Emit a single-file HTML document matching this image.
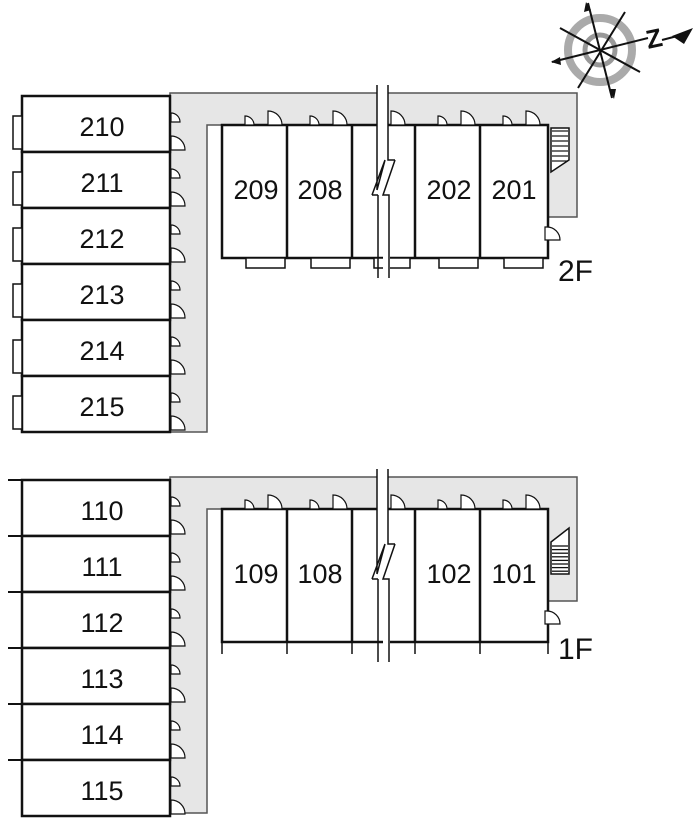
<!DOCTYPE html>
<html><head><meta charset="utf-8"><style>
html,body{margin:0;padding:0;background:#fff;}
svg{display:block}
text{font-family:"Liberation Sans",sans-serif;fill:#111;}
</style></head><body>
<svg id="s" width="700" height="823" viewBox="0 0 700 823" xmlns="http://www.w3.org/2000/svg">
<g id="g"></g>
<g font-size="27" text-anchor="middle">
<text x="102" y="136">210</text><text x="102" y="192">211</text><text x="102" y="248">212</text>
<text x="102" y="304">213</text><text x="102" y="360">214</text><text x="102" y="416">215</text>
<text x="256" y="199">209</text><text x="320" y="199">208</text><text x="449" y="199">202</text><text x="514" y="199">201</text>
<text x="102" y="520">110</text><text x="102" y="576">111</text><text x="102" y="632">112</text>
<text x="102" y="688">113</text><text x="102" y="744">114</text><text x="102" y="800">115</text>
<text x="256" y="583">109</text><text x="320" y="583">108</text><text x="449" y="583">102</text><text x="514" y="583">101</text>
</g>
<g font-size="30"><text x="558" y="281">2F</text><text x="558" y="659">1F</text></g>
<g font-size="26" font-weight="bold" font-family="Liberation Serif"><text x="646" y="47" transform="rotate(-12 656 38)">Z</text></g>
</svg>
<script>
var g=document.getElementById('g'),NS='http://www.w3.org/2000/svg';
function el(t,a){var e=document.createElementNS(NS,t);for(var k in a)e.setAttribute(k,a[k]);g.appendChild(e);return e;}
function floor(o,two){
 el('path',{d:'M170 '+(93+o)+' H577 V'+(217+o)+' H548 V'+(125+o)+' H207 V'+(432+o+(two?0:-3))+' H170 Z',fill:'#e6e6e6',stroke:'#555','stroke-width':1.5});
 for(var i=0;i<6;i++){var y=96+o+i*56;
  el('rect',{x:22,y:y,width:148,height:56,fill:'#fff',stroke:'#111','stroke-width':2.5});
  if(two)el('rect',{x:13,y:y+20,width:9,height:33,fill:'#fff',stroke:'#111','stroke-width':1.5});
  else el('line',{x1:8,y1:y,x2:22,y2:y,stroke:'#111','stroke-width':2});
  el('path',{d:'M171 '+(y+26)+' V'+(y+17)+' A9 9 0 0 1 180 '+(y+26)+' Z',fill:'#fff',stroke:'#111','stroke-width':1.2});
  el('path',{d:'M171 '+(y+54)+' V'+(y+40)+' A14 14 0 0 1 185 '+(y+54)+' Z',fill:'#fff',stroke:'#111','stroke-width':1.2});
 }
 el('rect',{x:222,y:125+o,width:326,height:133,fill:'#fff',stroke:'#111','stroke-width':2.5});
 [287,352,415,480].forEach(function(x){el('line',{x1:x,y1:125+o,x2:x,y2:258+o,stroke:'#111','stroke-width':2.5});});
 [222,287,352,415,480].forEach(function(x,j){
  if(j!=2)el('path',{d:'M'+(x+23)+' '+(125+o)+' V'+(116+o)+' A9 9 0 0 1 '+(x+32)+' '+(125+o)+' Z',fill:'#fff',stroke:'#111','stroke-width':1.2});
  el('path',{d:'M'+(x+(j==2?39:46))+' '+(125+o)+' V'+(111+o)+' A14 14 0 0 1 '+(x+(j==2?53:60))+' '+(125+o)+' Z',fill:'#fff',stroke:'#111','stroke-width':1.2});
  if(two)el('rect',{x:x+(j==2?22:24),y:258+o,width:(j==2?36:39),height:10,fill:'#fff',stroke:'#111','stroke-width':1.5});
  else el('line',{x1:x,y1:258+o,x2:x,y2:270+o,stroke:'#111','stroke-width':1.5});
 });
 if(!two)el('line',{x1:548,y1:258+o,x2:548,y2:270+o,stroke:'#111','stroke-width':1.5});
 if(two){
  el('path',{d:'M551 '+(128+o)+' H569 V'+(160+o)+' L551 '+(172+o)+' Z',fill:'#fff',stroke:'#111','stroke-width':1.5});
  for(var k=0;k<7;k++){var yy=131+o+k*5;el('line',{x1:552,y1:yy,x2:568,y2:yy,stroke:'#111','stroke-width':1.2});}
 } else {
  el('path',{d:'M551 '+(158+o)+' L569 '+(144+o)+' V'+(190+o)+' H551 Z',fill:'#fff',stroke:'#111','stroke-width':1.5});
  for(var k=0;k<8;k++){var yy=162+o+k*3.6;el('line',{x1:552,y1:yy,x2:568,y2:yy,stroke:'#111','stroke-width':1.3});}
 }
 el('path',{d:'M545 '+(227+o)+' V'+(240+o)+' H560 A13 13 0 0 0 547 '+(227+o)+' Z',fill:'#fff',stroke:'#111','stroke-width':1.2});
 el('path',{d:'M377 '+(85+o)+' V'+(215+o)+' L372 '+(195+o)+' L395 '+(160+o)+' L388 '+(160+o)+' V'+(85+o)+' Z M377 '+(215+o)+' L383 '+(195+o)+' V'+(275+o)+' H390 V'+(195+o),fill:'#fff',stroke:'none'});
 el('path',{d:'M377 '+(85+o)+' V'+(190+o)+' M388 '+(85+o)+' V'+(160+o)+' L395 '+(160+o)+' M377 '+(190+o)+' L385 '+(160+o)+' M372 '+(195+o)+' L378 '+(195+o)+' M372 '+(195+o)+' L385 '+(160+o)+' M378 '+(195+o)+' V'+(278+o)+' M395 '+(160+o)+' L383 '+(195+o)+' H389 V'+(278+o),fill:'none',stroke:'#111','stroke-width':1.5});
}
floor(0,true);floor(384,false);
el('circle',{cx:600,cy:50,r:32,fill:'none',stroke:'#aaa','stroke-width':8});
el('circle',{cx:600,cy:50,r:15,fill:'none',stroke:'#999','stroke-width':5});
[[588,3,612,98],[625,12,578,88],[560,28,640,72],[552,62,648,38]].forEach(function(l){el('line',{x1:l[0],y1:l[1],x2:l[2],y2:l[3],stroke:'#111','stroke-width':2});});
el('path',{d:'M586 2 L584 12 L591 10 Z M614 99 L609 89 L616 89 Z M551 62 L560 57 L561 65 Z',fill:'#111'});
el('path',{d:'M672 36 L693 28 L684 44 Z',fill:'#111'});
el('line',{x1:662,y1:40,x2:685,y2:34,stroke:'#111','stroke-width':2});
</script>
</body></html>
